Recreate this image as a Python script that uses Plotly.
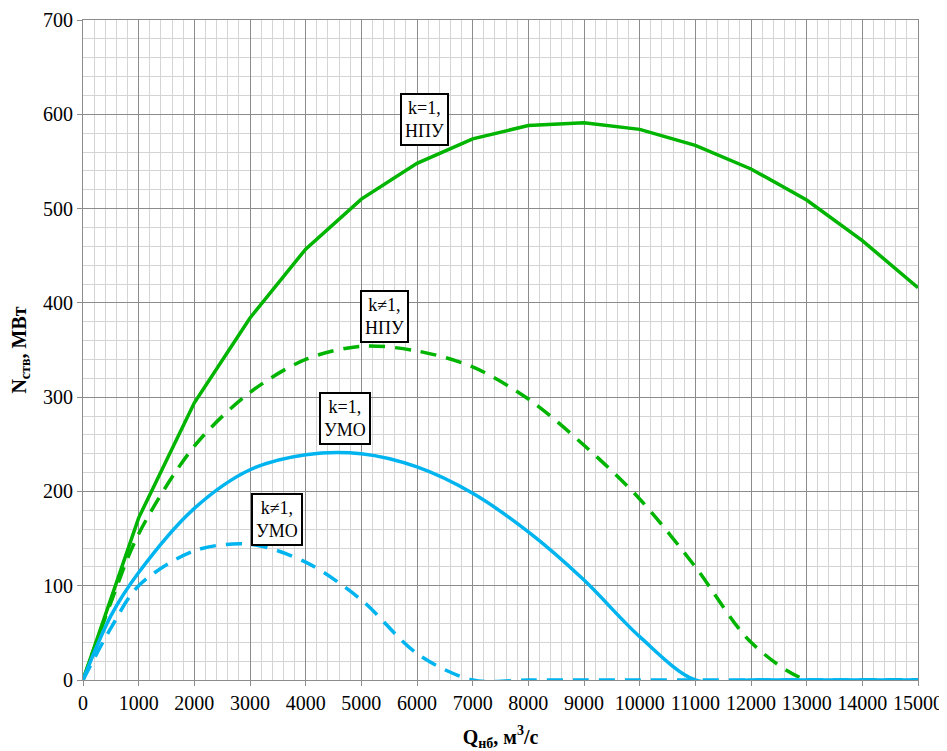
import plotly.graph_objects as go

# Data
q = [0, 500, 1000, 2000, 3000, 4000, 5000, 6000, 7000, 8000, 9000,
     10000, 11000, 12000, 13000, 14000, 15000]
n_k1_npu = [0, 87, 172, 294, 384, 457, 510, 548, 574, 588, 591, 584, 567, 542, 509, 466, 416]
n_kn_npu = [0, 82, 155, 248, 305, 340, 354, 349, 332, 298, 249, 192, 120, 40, 0, 0, 0]
n_k1_umo = [0, 68, 114, 182, 223, 239, 240, 226, 198, 157, 106, 46, 0, 0, 0, 0, 0]
n_kn_umo = [0, 55, 100, 137, 144, 125, 85, 28, 0, 0, 0, 0, 0, 0, 0, 0, 0]

labels = ["k=1,<br>НПУ", "k≠1,<br>НПУ", "k=1,<br>УМО", "k≠1,<br>УМО"]
label_x = [6143, 5425, 4706, 3485]
label_y = [594, 386, 277, 170]

x_ticks = list(range(0, 15001, 1000))
y_ticks = list(range(0, 701, 100))

GREEN = "#00B400"
BLUE = "#00B4F0"
FONT = "Liberation Serif"

fig = go.Figure()
fig.add_trace(go.Scatter(x=q, y=n_k1_npu, mode="lines",
                         line=dict(color=GREEN, width=3.5)))
fig.add_trace(go.Scatter(x=q, y=n_kn_npu, mode="lines",
                         line=dict(color=GREEN, width=3.5, dash="16px,10px",
                                   shape="spline", smoothing=0.9)))
fig.add_trace(go.Scatter(x=q, y=n_k1_umo, mode="lines",
                         line=dict(color=BLUE, width=3.5,
                                   shape="spline", smoothing=0.9)))
fig.add_trace(go.Scatter(x=q, y=n_kn_umo, mode="lines",
                         line=dict(color=BLUE, width=3.5, dash="16px,10px",
                                   shape="spline", smoothing=0.9)))

for t, ax, ay in zip(labels, label_x, label_y):
    fig.add_annotation(x=ax, y=ay, text=t, showarrow=False,
                       font=dict(family=FONT, size=18, color="black"),
                       bgcolor="white", bordercolor="black", borderwidth=2,
                       borderpad=3)

grid_major = "#8c8c8c"
grid_minor = "#d4d4d4"

fig.update_xaxes(range=[0, 15000], tickvals=x_ticks,
                 ticktext=[str(v) for v in x_ticks],
                 showgrid=True, gridcolor=grid_major, gridwidth=1,
                 minor=dict(dtick=200, showgrid=True, gridcolor=grid_minor, gridwidth=1),
                 zeroline=False, showline=True, linecolor=grid_major, mirror=True,
                 ticks="outside", ticklen=5, tickcolor=grid_major,
                 tickfont=dict(family=FONT, size=20, color="black"),
                 title=dict(text="<b>Q<sub>нб</sub>, м<sup>3</sup>/с</b>",
                            font=dict(family=FONT, size=20, color="black"),
                            standoff=22))
fig.update_yaxes(range=[0, 700], tickvals=y_ticks,
                 showgrid=True, gridcolor=grid_major, gridwidth=1,
                 minor=dict(dtick=20, showgrid=True, gridcolor=grid_minor, gridwidth=1),
                 zeroline=False, showline=True, linecolor=grid_major, mirror=True,
                 ticks="outside", ticklen=5, tickcolor=grid_major,
                 tickfont=dict(family=FONT, size=20, color="black"),
                 title=dict(text="<b>N<sub>ств</sub>, МВт</b>",
                            font=dict(family=FONT, size=20, color="black"),
                            standoff=12))

# page body has an 8px margin, so the figure is shrunk and shifted accordingly
fig.update_layout(width=939, height=743, showlegend=False,
                  plot_bgcolor="white", paper_bgcolor="white",
                  margin=dict(l=75, r=29, t=12, b=71, autoexpand=False))

fig.write_html("out.html")
